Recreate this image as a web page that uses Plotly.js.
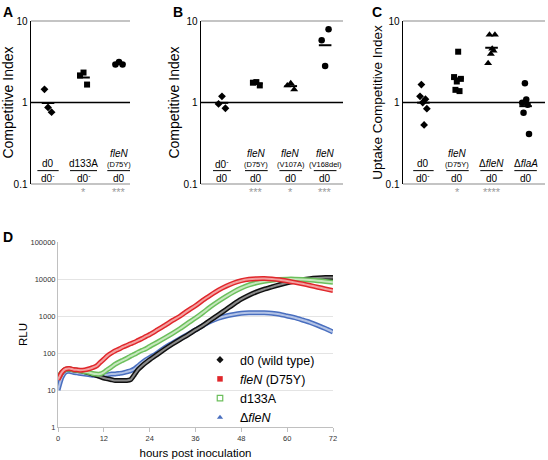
<!DOCTYPE html>
<html><head><meta charset="utf-8">
<script src="https://cdn.plot.ly/plotly-3.0.1.min.js"></script>
<style>html,body{margin:0;padding:0;background:#fff}#chart{width:548px;height:460px}</style>
</head><body><div id="chart"></div>
<script>
// ---------- Panel A data (competitive index) ----------
const A_num = ['d0', 'd133A', '<i>fleN</i>'];
const A_sub = ['', '', '(D75Y)'];
const A_den = ['d0<sup>-</sup>', 'd0<sup>-</sup>', 'd0'];
const A_sig = ['', '*', '***'];
const A_d0 = [1.45, 0.87, 0.76];
const A_d133A = [2.15, 2.33, 1.66];
const A_fleN_D75Y = [2.92, 3.15, 2.92];

// ---------- Panel B data ----------
const B_num = ['d0<sup>-</sup>', '<i>fleN</i>', '<i>fleN</i>', '<i>fleN</i>'];
const B_sub = ['', '(D75Y)', '(V107A)', '(V168del)'];
const B_den = ['d0', 'd0', 'd0', 'd0'];
const B_sig = ['', '***', '*', '***'];
const B_d0 = [0.96, 1.19, 0.85];
const B_D75Y = [1.75, 1.78, 1.62];
const B_V107A = [1.62, 1.72, 1.44];
const B_V168del = [5.8, 2.8, 7.9];

// ---------- Panel C data (uptake competitive index) ----------
const C_num = ['d0', '<i>fleN</i>', '\u0394<i>fleN</i>', '\u0394<i>flaA</i>'];
const C_sub = ['', '(D75Y)', '', ''];
const C_den = ['d0<sup>-</sup>', 'd0', 'd0', 'd0'];
const C_sig = ['', '*', '****', ''];
const C_d0 = [1.19, 1.66, 1.0, 0.53, 1.1, 0.84];
const C_D75Y = [2.05, 1.43, 1.81, 4.2, 1.38, 1.95];
const C_dfleN = [3.03, 6.77, 3.95, 4.55, 4.3, 6.77];
const C_dflaA = [0.99, 0.75, 1.72, 1.09, 0.94, 0.41];

// ---------- Panel D data (RLU over time) ----------
const hours = [0,1,2,3,4,5,6,7,8,9,10,11,12,13,14,15,16,17,18,19,20,21,22,23,24,
  26,28,30,32,34,36,38,40,42,44,46,48,50,52,54,56,58,60,62,64,66,68,70,72];
const rlu_d0 = [20,30,36,37,35,34,33,31,29,27,25,23,21,20,19,18,18,18,18,19,26,36,45,55,66,
  92,128,175,235,310,420,560,780,1080,1500,2100,2850,3650,4500,5300,6100,7000,7900,8800,9600,10200,10600,10900,11000];
const rlu_fleN_D75Y = [19,30,37,38,36,35,34,35,37,40,44,55,68,85,100,115,128,145,160,178,195,220,245,280,316,
  420,560,760,1000,1400,1900,2700,3700,5000,6400,7800,9000,9800,10200,10300,10000,9500,8800,8100,7400,6700,6000,5400,4900];
const rlu_d133A = [20,30,36,37,35,34,33,31,30,28,27,27,30,36,42,50,57,64,72,82,92,105,118,130,150,
  195,255,340,460,640,880,1250,1800,2500,3400,4500,5700,6900,7900,8700,9300,9700,9900,9900,9700,9400,9000,8600,8200];
const rlu_dfleN = [10,22,31,32,30,29,28,27,26,25,25,25,26,26,27,27,28,29,31,33,37,45,55,65,75,
  100,140,185,245,320,420,560,720,870,1000,1100,1180,1220,1230,1220,1190,1120,1000,900,780,670,560,460,370];
const legendNames = ['d0 (wild type)', '<i>fleN</i> (D75Y)', 'd133A', '\u0394<i>fleN</i>'];

// ---------- helpers ----------
const W = 548, H = 460;
const px = x => x / W, py = y => 1 - y / H;
const FONT = 'Liberation Sans, Arial, Helvetica, sans-serif';
const geoMean = a => Math.exp(a.reduce((s, v) => s + Math.log(v), 0) / a.length);

const traces = [];
const shapes = [];
const annotations = [];

function dotColumn(vals, pos, symbol, size, xa, ya) {
  const n = vals.length, spread = 0.2;
  const xs = vals.map((v, i) => pos + (n > 1 ? (i / (n - 1) - 0.5) * spread : 0));
  traces.push({x: xs, y: vals, xaxis: xa, yaxis: ya, type: 'scatter', mode: 'markers', showlegend: false,
    marker: {symbol: symbol, size: size, color: '#000'}, hoverinfo: 'y', cliponaxis: false});
  traces.push({x: [pos], y: [geoMean(vals)], xaxis: xa, yaxis: ya, type: 'scatter', mode: 'markers', showlegend: false,
    marker: {symbol: 'line-ew', size: 9, line: {width: 2, color: '#000'}}, hoverinfo: 'y'});
}

function panelDecor(suffix, num, sub, den, sig, halfw) {
  const xr = 'x' + suffix, yd = 'y' + suffix + ' domain', xd = 'x' + suffix + ' domain';
  shapes.push({type: 'line', xref: xd, yref: yd, x0: 0, x1: 1, y0: 1, y1: 1, line: {color: '#c4c4c4', width: 2}, layer: 'below'});
  shapes.push({type: 'line', xref: xd, yref: yd, x0: 0, x1: 1, y0: 0, y1: 0, line: {color: '#c4c4c4', width: 2}, layer: 'below'});
  shapes.push({type: 'line', xref: xd, yref: yd, x0: 0, x1: 1, y0: 0.5, y1: 0.5, line: {color: '#000', width: 1.6}, layer: 'below'});
  num.forEach((t, i) => {
    const pos = i + 1;
    const hw = halfw[i];
    shapes.push({type: 'line', xref: xr, yref: yd, x0: pos - hw, x1: pos + hw, y0: 0.082, y1: 0.082, line: {color: '#000', width: 1}});
    if (sub[i]) {
      annotations.push({xref: xr, yref: yd, x: pos, y: 0.188, text: t, showarrow: false, font: {size: 10}, yanchor: 'middle'});
      annotations.push({xref: xr, yref: yd, x: pos, y: 0.121, text: sub[i], showarrow: false, font: {size: 7.5}, yanchor: 'middle'});
    } else {
      annotations.push({xref: xr, yref: yd, x: pos, y: 0.123, text: t, showarrow: false, font: {size: 10}, yanchor: 'middle'});
    }
    annotations.push({xref: xr, yref: yd, x: pos, y: 0.036, text: den[i], showarrow: false, font: {size: 10}, yanchor: 'middle'});
    if (sig[i]) annotations.push({xref: xr, yref: yd, x: pos, y: -0.052, text: sig[i], showarrow: false, font: {size: 11, color: '#9a9a9a'}, yanchor: 'middle'});
  });
}

// Panel A
dotColumn(A_d0, 1, 'diamond', 6, 'x', 'y');
dotColumn(A_d133A, 2, 'square', 6, 'x', 'y');
dotColumn(A_fleN_D75Y, 3, 'circle', 6.5, 'x', 'y');
panelDecor('', A_num, A_sub, A_den, A_sig, [0.3, 0.38, 0.33]);
// Panel B
dotColumn(B_d0, 1, 'diamond', 6, 'x2', 'y2');
dotColumn(B_D75Y, 2, 'square', 6, 'x2', 'y2');
dotColumn(B_V107A, 3, 'triangle-up', 7, 'x2', 'y2');
dotColumn(B_V168del, 4, 'circle', 6.5, 'x2', 'y2');
panelDecor('2', B_num, B_sub, B_den, B_sig, [0.26, 0.33, 0.33, 0.33]);
// Panel C
dotColumn(C_d0, 1, 'diamond', 6, 'x3', 'y3');
dotColumn(C_D75Y, 2, 'square', 6, 'x3', 'y3');
dotColumn(C_dfleN, 3, 'triangle-up', 7, 'x3', 'y3');
dotColumn(C_dflaA, 4, 'circle', 6.5, 'x3', 'y3');
panelDecor('3', C_num, C_sub, C_den, C_sig, [0.3, 0.33, 0.33, 0.33]);

// Panel D
const series = [
  {y: rlu_d0, c: '#111111', t: '#8a8a8a', sym: 'diamond', open: false},
  {y: rlu_fleN_D75Y, c: '#e0272b', t: '#f3a0a0', sym: 'square', open: false},
  {y: rlu_d133A, c: '#6cbf5c', t: '#c6e8bd', sym: 'square-open', open: true},
  {y: rlu_dfleN, c: '#4a6fbf', t: '#b3c3e6', sym: 'triangle-up', open: false}
];
[3, 0, 2, 1].forEach(k => {
  const s = series[k];
  traces.push({x: hours, y: s.y, xaxis: 'x4', yaxis: 'y4', type: 'scatter', mode: 'lines', showlegend: false,
    line: {color: s.c, width: 5, shape: 'spline', smoothing: 0.6}, hoverinfo: 'skip'});
  traces.push({x: hours, y: s.y, xaxis: 'x4', yaxis: 'y4', type: 'scatter', mode: 'lines', showlegend: false,
    line: {color: s.t, width: 2, shape: 'spline', smoothing: 0.6}, hoverinfo: 'x+y'});
});
series.forEach((s, k) => {
  traces.push({x: [null], y: [null], xaxis: 'x4', yaxis: 'y4', type: 'scatter', mode: 'markers', name: legendNames[k],
    marker: {symbol: s.sym, size: 5.5, color: s.c, line: {color: s.c, width: s.open ? 1.2 : 0}}});
});

// panel letters
[['A', 8, 12], ['B', 178, 12], ['C', 377, 12], ['D', 8, 237]].forEach(([t, x, y]) => {
  annotations.push({xref: 'paper', yref: 'paper', x: px(x), y: py(y), text: '<b>' + t + '</b>', showarrow: false,
    font: {size: 14, color: '#000'}, xanchor: 'center', yanchor: 'middle'});
});

const catY = (dom) => ({
  type: 'log', range: [-1, 1], domain: dom, showgrid: false, zeroline: false,
  showline: true, linecolor: '#000', linewidth: 1.5, ticks: '',
  tickvals: [0.1, 1, 10], ticktext: ['0.1', '1', '10'], tickfont: {size: 10, color: '#000'}, fixedrange: true
});
const catX = (dom, range) => ({domain: dom, range: range, showline: false, showticklabels: false, showgrid: false, zeroline: false, ticks: '', fixedrange: true});
const yDom = [py(184), py(21)];

const layout = {
  width: W, height: H, margin: {l: 0, r: 0, t: 0, b: 0},
  paper_bgcolor: '#fff', plot_bgcolor: 'rgba(0,0,0,0)',
  font: {family: FONT, color: '#000'},
  xaxis: catX([px(31), px(130)], [0.52, 3.31]),
  yaxis: Object.assign(catY(yDom), {anchor: 'x', title: {text: 'Competitive Index', font: {size: 14}, standoff: 0}}),
  xaxis2: catX([px(201), px(343)], [0.39, 4.52]),
  yaxis2: Object.assign(catY(yDom), {anchor: 'x2', title: {text: 'Competitive Index', font: {size: 14}, standoff: 0}}),
  xaxis3: catX([px(403), px(545)], [0.40, 4.57]),
  yaxis3: Object.assign(catY(yDom), {anchor: 'x3', title: {text: 'Uptake Competitive Index', font: {size: 13.5}, standoff: 0}}),
  xaxis4: {domain: [px(58), px(333)], range: [0, 72], anchor: 'y4', tickvals: [0, 12, 24, 36, 48, 60, 72],
    ticks: 'outside', ticklen: 4, tickcolor: '#c0c0c0', showline: true, linecolor: '#c0c0c0', showgrid: false, zeroline: false,
    tickfont: {size: 7.5, color: '#333'}, title: {text: 'hours post inoculation', font: {size: 11.5}, standoff: 6}},
  yaxis4: {type: 'log', domain: [py(427), py(242)], range: [0, 5], anchor: 'x4',
    tickvals: [1, 10, 100, 1000, 10000, 100000], ticktext: ['1', '10', '100', '1000', '10000', '100000'],
    ticks: '', showline: true, linecolor: '#c0c0c0', showgrid: true, gridcolor: '#e4e4e4', gridwidth: 1, zeroline: false,
    tickfont: {size: 7.5, color: '#333'}, title: {text: 'RLU', font: {size: 11.5}, standoff: 0}},
  showlegend: true,
  legend: {x: px(200), y: py(345), xanchor: 'left', yanchor: 'top', bgcolor: 'rgba(255,255,255,0)',
    font: {size: 12.5, color: '#000'}, tracegroupgap: 0, itemwidth: 30},
  shapes: shapes, annotations: annotations
};

Plotly.newPlot('chart', traces, layout, {staticPlot: true, displayModeBar: false});
</script>
</body></html>
